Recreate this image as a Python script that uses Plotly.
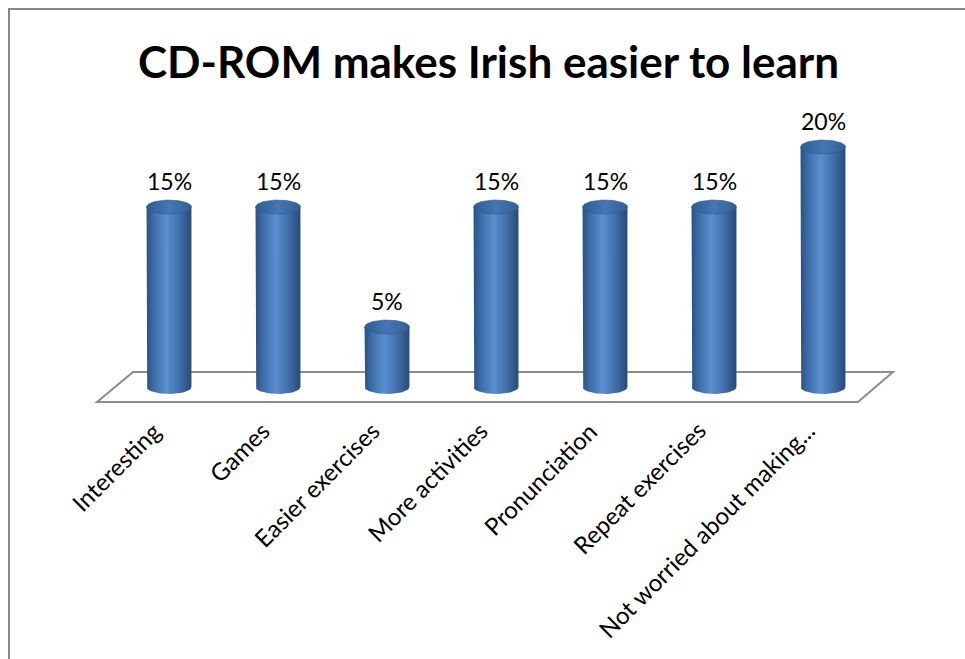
import numpy as np
import plotly.graph_objects as go

# Survey results: share of pupils giving each reason
categories = ["Interesting", "Games", "Easier exercises", "More activities",
              "Pronunciation", "Repeat exercises", "Not worried about making..."]
values = [15, 15, 5, 15, 15, 15, 20]
value_labels = ["15%", "15%", "5%", "15%", "15%", "15%", "20%"]

W, H = 965, 659
RX = 0.206   # cylinder half-width in category units
RY = 0.58    # ellipse half-height in value units

body_scale = [[0, "#2a5283"], [0.18, "#3f6fac"], [0.45, "#5b8fd1"],
              [0.75, "#3f6ca6"], [1, "#284a77"]]
cap_scale = [[0, "#2f5c93"], [0.5, "#4576b3"], [1, "#335f96"]]

fig = go.Figure()
t = np.linspace(0, np.pi, 40)
for i, v in enumerate(values):
    # body: straight sides plus the visible lower half of the base ellipse
    xs = [i - RX, i - RX]
    ys = [v, 0]
    xs += list(i - RX * np.cos(t))
    ys += list(-RY * np.sin(t))
    xs += [i + RX, i + RX]
    ys += [0, v]
    fig.add_trace(go.Scatter(
        x=xs, y=ys, mode="lines", fill="toself", line=dict(width=0),
        fillgradient=dict(type="horizontal", colorscale=body_scale),
        hoverinfo="skip", showlegend=False))
    # top cap
    tt = np.linspace(0, 2 * np.pi, 80)
    fig.add_trace(go.Scatter(
        x=i + RX * np.cos(tt), y=v + RY * np.sin(tt), mode="lines",
        fill="toself", line=dict(width=0.6, color="#2d5687"),
        fillgradient=dict(type="horizontal", colorscale=cap_scale),
        hoverinfo="skip", showlegend=False))

# value labels above each cylinder
for i, (v, lab) in enumerate(zip(values, value_labels)):
    fig.add_annotation(x=i, y=v, text=lab, showarrow=False, yshift=26,
                       font=dict(family="Lato", size=23, color="#000000"))

# slanted category labels under the floor
for i, cat in enumerate(categories):
    fig.add_annotation(x=i, xref="x", y=(H - 413) / H, yref="paper", text=cat,
                       textangle=-45, xanchor="right", yanchor="top",
                       xshift=0, showarrow=False,
                       font=dict(family="Lato", size=24, color="#000000"))

# floor of the 3-D plot area
fig.add_shape(type="path", xref="x", yref="y", layer="below",
              path="M -0.33,1.25 L 6.642,1.25 L 6.321,-1.25 L -0.66,-1.25 Z",
              line=dict(color="#8c8c8c", width=2), fillcolor="white")

# chart border
fig.add_shape(type="rect", xref="paper", yref="paper",
              x0=9 / W, x1=1.02, y0=-0.02, y1=1 - 9 / H,
              line=dict(color="#868686", width=2))

fig.add_annotation(x=488 / W, y=1 - 61 / H, xref="paper", yref="paper",
                   yanchor="middle", xanchor="center",
                   text="<b>CD-ROM makes Irish easier to learn</b>",
                   showarrow=False,
                   font=dict(family="Lato", size=44, color="#000000"))

x0 = (0 - 169) / 109
x1 = (W - 169) / 109
y_bot_px = 410
fig.update_layout(
    width=W, height=H, margin=dict(l=0, r=0, t=0, b=0),
    paper_bgcolor="white", plot_bgcolor="rgba(0,0,0,0)",
    xaxis=dict(range=[x0, x1], domain=[0, 1], showticklabels=False,
               showgrid=False, zeroline=False, showline=False, ticks=""),
    yaxis=dict(range=[(387 - y_bot_px) / 12, 387 / 12], domain=[(H - y_bot_px) / H, 1],
               showgrid=False, zeroline=False, showticklabels=False, showline=False),
)

fig.write_html("out.html")
